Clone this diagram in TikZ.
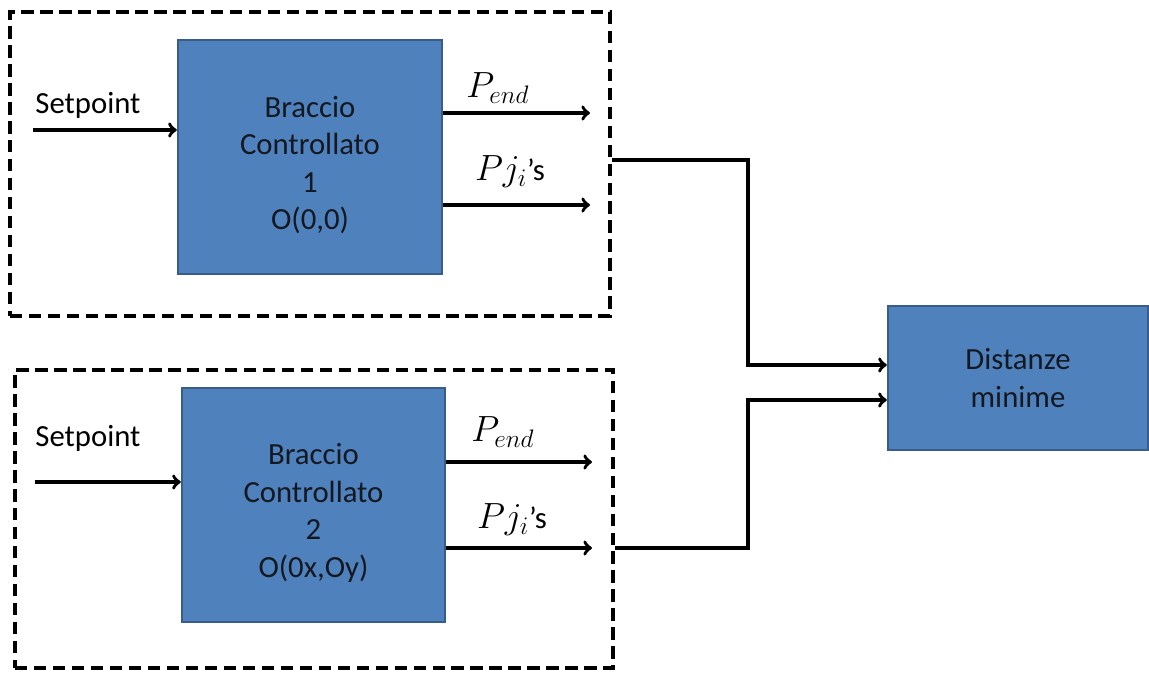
\documentclass[tikz,border=0pt]{standalone}
\usepackage{fontspec}
\setmainfont{Carlito}
\usetikzlibrary{calc}
\usetikzlibrary{arrows}
\definecolor{boxblue}{RGB}{79,129,189}
\definecolor{boxedge}{RGB}{56,93,138}
\definecolor{boxtext}{RGB}{20,24,32}

\begin{document}
\begin{tikzpicture}[x=0.02cm,y=-0.02cm,
        font=\fontsize{17.5}{21.3}\selectfont,
        blk/.style={draw=boxedge,rectangle,fill=boxblue,line width=1.4pt,align=center,inner sep=0pt,text=boxtext},
        grp/.style={draw=black,rectangle,dash pattern=on 7pt off 3.8pt,line width=2pt,inner sep=0pt},
        arr/.style={-to,line width=2pt,black},
        lbl/.style={inner sep=0pt},
        mlbl/.style={inner sep=0pt,font=\fontsize{21}{24}\selectfont}
      ]
      \useasboundingbox (0,0) rectangle (1149,673);
      % Groups.
      \node[grp,minimum width=12cm,minimum height=6.08cm] (grpa) at (310,164) {};
      \node[grp,minimum width=11.96cm,minimum height=5.96cm] (grpb) at (314,519) {};
      % Blocks.
      \node[blk,minimum width=5.28cm,minimum height=4.68cm,text height=85pt] (bra) at (310,157) {Braccio\\Controllato\\1\\O(0,0)};
      \node[blk,minimum width=5.26cm,minimum height=4.68cm,text height=85pt] (brb) at (313.5,505) {Braccio\\Controllato\\2\\O(0x,Oy)};
      \node[blk,minimum width=5.2cm,minimum height=2.88cm] (dist) at (1018,378) {Distanze\\minime};
      % Labels.
      \node[lbl] (spa) at (88,105) {Setpoint};
      \node[lbl] (spb) at (88,438) {Setpoint};
      \node[mlbl] (pea) at (498,88) {$P_{end}$};
      \node[mlbl] (pja) at (510,172) {$Pj_i${\fontsize{17.5}{21}\selectfont ’s}};
      \node[mlbl] (peb) at (503,432) {$P_{end}$};
      \node[mlbl] (pjb) at (512,520) {$Pj_i${\fontsize{17.5}{21}\selectfont ’s}};
      % Free ends.
      \coordinate (ina) at (33,130);
      \coordinate (inb) at (35,482);
      \coordinate (outa1) at (590,113);
      \coordinate (outa2) at (590,205);
      \coordinate (outb1) at (592,462);
      \coordinate (outb2) at (592,548);
      \coordinate (bus) at (748,0);
      % Connections.
      \draw[arr] (ina) -- (ina -| bra.west);
      \draw[arr] (inb) -- (inb -| brb.west);
      \draw[arr] (outa1 -| bra.east) -- (outa1);
      \draw[arr] (outa2 -| bra.east) -- (outa2);
      \draw[arr] (outb1 -| brb.east) -- (outb1);
      \draw[arr] (outb2 -| brb.east) -- (outb2);
      \draw[arr] ([yshift=0.08cm]grpa.east) -- ([yshift=0.08cm]grpa.east -| bus) |- ([yshift=0.26cm]dist.west);
      \draw[arr] (outb2 -| grpb.east) -- (outb2 -| bus) |- ([yshift=-0.44cm]dist.west);
    \end{tikzpicture}
\end{document}
